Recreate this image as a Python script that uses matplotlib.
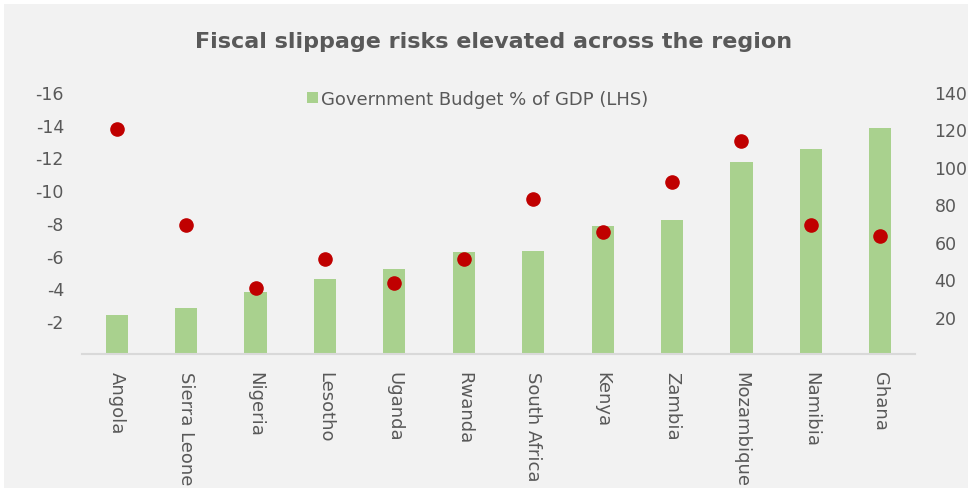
import numpy as np
import matplotlib
matplotlib.use("Agg")
import matplotlib.pyplot as plt
from matplotlib.patches import Rectangle

# budget balance (% of GDP, LHS) and debt (% of GDP, RHS)
countries = ["Angola", "Sierra Leone", "Nigeria", "Lesotho", "Uganda", "Rwanda",
             "South Africa", "Kenya", "Zambia", "Mozambique", "Namibia", "Ghana"]
budget = [-2.4, -2.8, -3.8, -4.6, -5.2, -6.2, -6.3, -7.8, -8.2, -11.7, -12.5, -13.8]
debt = [120, 69, 35, 51, 38, 51, 83, 65, 92, 114, 69, 63]

grey = "#595959"
plt.rcParams["font.family"] = "DejaVu Sans"
plt.rcParams["axes.unicode_minus"] = False

fig = plt.figure(figsize=(9.68, 4.89), dpi=100)
fig.patch.set_facecolor("white")
fig.patches.append(Rectangle((4 / 968, 0), 1, 1 - 5 / 489, transform=fig.transFigure,
                             facecolor="#f2f2f2", edgecolor="none", zorder=-10))

ax = fig.add_axes([0.0847, 0.274, 0.8606, 0.536])
ax.set_facecolor("none")
x = np.arange(len(countries))
ax.bar(x, budget, width=0.32, color="#a9d18e", label="Government Budget % of GDP (LHS)", zorder=2)
ax.set_ylim(0, -16)
ax.set_xlim(-0.5, len(countries) - 0.5)
ax.set_yticks(np.arange(-2, -17, -2))
ax.set_xticks(x)
ax.set_xticklabels(countries, rotation=-90, va="top", ha="center")
ax.tick_params(axis="y", length=0, pad=13, labelsize=12.5, labelcolor=grey)
ax.tick_params(axis="x", length=0, pad=12, labelsize=13, labelcolor=grey)
for s in ["top", "left", "right"]:
    ax.spines[s].set_visible(False)
ax.spines["bottom"].set_color("#d9d9d9")
ax.spines["bottom"].set_linewidth(1.5)

ax2 = ax.twinx()
ax2.scatter(x, debt, s=90, color="#c00000", zorder=3)
ax2.set_ylim(0, 140)
ax2.set_yticks(np.arange(20, 141, 20))
ax2.tick_params(axis="y", length=0, pad=14, labelsize=12.5, labelcolor=grey)
for s in ["top", "left", "right", "bottom"]:
    ax2.spines[s].set_visible(False)

ax.legend(loc="upper center", bbox_to_anchor=(0.475, 1.07), frameon=False, fontsize=13,
          labelcolor=grey, handlelength=0.6, handleheight=0.6, handletextpad=0.2)

fig.text(0.51, 0.915, "Fiscal slippage risks elevated across the region", ha="center",
         va="center", fontsize=16, fontweight="bold", color=grey)

fig.savefig("out.png", dpi=100)
